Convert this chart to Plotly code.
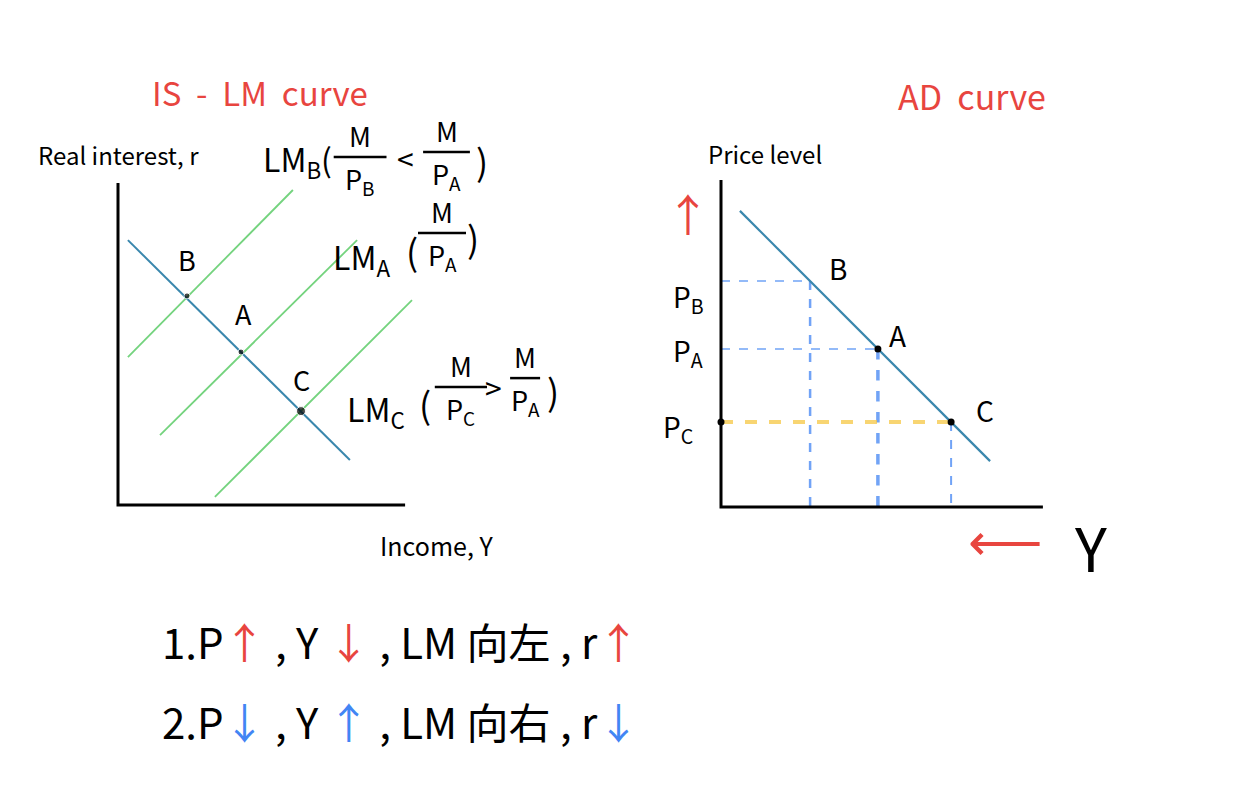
import plotly.graph_objects as go

# ---- IS-LM panel: income Y (x) vs real interest r (y) ----
is_income = [0.33, 7.73]
is_rate = [8.83, 1.5]
lm_labels = ["LM_B", "LM_A", "LM_C"]
lm_income = [[0.33, 5.83], [1.4, 7.97], [3.23, 9.8]]
lm_rate = [[4.93, 10.5], [2.33, 8.83], [0.27, 6.83]]
eq_labels = ["B", "A", "C"]
eq_income = [2.3, 4.1, 6.1]
eq_rate = [6.97, 5.1, 3.13]
islm_axis_len = [9.57, 10.73]  # income axis, interest axis

# ---- AD panel: output Y (x) vs price level P (y) ----
ad_output = [0.63, 8.97]
ad_price = [9.87, 1.53]
ad_labels = ["B", "A", "C"]
ad_pt_output = [2.97, 5.23, 7.67]
ad_pt_price = [7.53, 5.27, 2.83]
ad_axis_len = [10.73, 10.9]
price_ticks = ["P<sub>B</sub>", "P<sub>A</sub>", "P<sub>C</sub>"]

RED = "#e8453f"
BLUE = "#4285f4"
notes = [
    f"1.P<span style='color:{RED}'>↑</span> , Y <span style='color:{RED}'>↓</span> , LM 向左 , r<span style='color:{RED}'>↑</span>",
    f"2.P<span style='color:{BLUE}'>↓</span> , Y <span style='color:{BLUE}'>↑</span> , LM 向右 , r<span style='color:{BLUE}'>↓</span>",
]

FONT = "Noto Sans CJK SC, Noto Sans, sans-serif"
LINE_BLUE = "#3a87ad"
LM_GREEN = "#74d37e"

# page geometry (body margin of 8px in the browser)
OFF, FIG_W, FIG_H, UNIT = 8, 1218, 788, 30


def panel_axes(ox, oy, left, right, top, bottom):
    xd = [(left - OFF) / FIG_W, (right - OFF) / FIG_W]
    yd = [1 - (bottom - OFF) / FIG_H, 1 - (top - OFF) / FIG_H]
    xr = [(left - ox) / UNIT, (right - ox) / UNIT]
    yr = [(oy - bottom) / UNIT, (oy - top) / UNIT]
    common = dict(visible=False, showgrid=False, zeroline=False, fixedrange=True)
    return dict(domain=xd, range=xr, **common), dict(domain=yd, range=yr, **common)


fig = go.Figure()

# ---------------- IS-LM ----------------
fig.add_trace(go.Scatter(x=[0, 0, islm_axis_len[0]], y=[islm_axis_len[1], 0, 0], mode="lines",
                         line=dict(color="black", width=3), xaxis="x", yaxis="y"))
for i, name in enumerate(lm_labels):
    fig.add_trace(go.Scatter(x=lm_income[i], y=lm_rate[i], mode="lines", name=name,
                             line=dict(color=LM_GREEN, width=1.8), xaxis="x", yaxis="y"))
fig.add_trace(go.Scatter(x=is_income, y=is_rate, mode="lines", name="IS",
                         line=dict(color=LINE_BLUE, width=2), xaxis="x", yaxis="y"))
fig.add_trace(go.Scatter(x=eq_income, y=eq_rate, mode="markers",
                         marker=dict(color="black", size=[6, 6, 9]), xaxis="x", yaxis="y"))

# ---------------- AD ----------------
guide_styles = [
    (dict(color=BLUE, width=1.5, dash="dash"), dict(color=BLUE, width=2.5, dash="dash")),
    (dict(color=BLUE, width=1.5, dash="dash"), dict(color=BLUE, width=3.5, dash="dash")),
    (dict(color="#f6c744", width=4, dash="dash"), dict(color=BLUE, width=2, dash="dash")),
]
for i in range(3):
    h_style, v_style = guide_styles[i]
    fig.add_trace(go.Scatter(x=[0, ad_pt_output[i]], y=[ad_pt_price[i]] * 2, mode="lines",
                             line=h_style, opacity=0.75, xaxis="x2", yaxis="y2"))
    fig.add_trace(go.Scatter(x=[ad_pt_output[i]] * 2, y=[ad_pt_price[i], -0.15], mode="lines",
                             line=v_style, opacity=0.75, xaxis="x2", yaxis="y2"))
fig.add_trace(go.Scatter(x=[0, 0, ad_axis_len[0]], y=[ad_axis_len[1], 0, 0], mode="lines",
                         line=dict(color="black", width=3), xaxis="x2", yaxis="y2"))
fig.add_trace(go.Scatter(x=ad_output, y=ad_price, mode="lines", name="AD",
                         line=dict(color=LINE_BLUE, width=2.2), xaxis="x2", yaxis="y2"))
fig.add_trace(go.Scatter(x=ad_pt_output[1:] + [0], y=ad_pt_price[1:] + [ad_pt_price[2]], mode="markers",
                         marker=dict(color="black", size=7), xaxis="x2", yaxis="y2"))

xa, ya = panel_axes(118, 505, 20, 615, 50, 600)
xb, yb = panel_axes(721, 507, 630, 1220, 50, 600)
fig.update_layout(xaxis=xa, yaxis=ya, xaxis2=xb, yaxis2=yb)


def txt(x, y, text, ref, size=26, color="black", xanchor="center", yanchor="middle"):
    fig.add_annotation(x=x, y=y, text=text, xref=ref[0], yref=ref[1], showarrow=False,
                       xanchor=xanchor, yanchor=yanchor, font=dict(family=FONT, size=size, color=color))


def frac(x, y_line, half_w, den, ref, size=27):
    fig.add_shape(type="line", x0=x - half_w, x1=x + half_w, y0=y_line, y1=y_line,
                  xref=ref[0], yref=ref[1], line=dict(color="black", width=2.5))
    txt(x, y_line, "M", ref, size=size, yanchor="bottom")
    txt(x, y_line, f"P<sub>{den}</sub>", ref, size=size, yanchor="top")


L = ("x", "y")
R = ("x2", "y2")

# IS-LM labels
txt(4.73, 13.78, "IS  -  LM  curve", L, size=33, color=RED)
txt(0, 11.67, "Real interest, r", L, size=24)
txt(10.63, -1.33, "Income, Y", L, size=25)
for name, xu, yu in zip(eq_labels, [2.3, 4.17, 6.13], [8.17, 6.4, 4.17]):
    txt(xu, yu, name, L, size=27)

txt(7.2, 11.5, "LM<sub>B</sub>(", L, size=32, xanchor="right")
frac(8.07, 11.6, 0.88, "B", L)
txt(9.57, 11.57, "<", L, size=30)
frac(10.95, 11.77, 0.78, "A", L)
txt(12.13, 11.5, ")", L, size=36)

txt(9.13, 8.23, "LM<sub>A</sub>", L, size=32, xanchor="right")
txt(9.8, 8.5, "(", L, size=36)
frac(10.8, 9.07, 0.8, "A", L)
txt(11.83, 8.93, ")", L, size=36)

txt(9.63, 3.17, "LM<sub>C</sub>", L, size=32, xanchor="right")
txt(10.23, 3.4, "(", L, size=36)
frac(11.43, 3.93, 0.87, "C", L)
txt(12.5, 3.93, ">", L, size=30)
frac(13.57, 4.23, 0.5, "A", L)
txt(14.5, 3.83, ")", L, size=36)

# AD labels
txt(8.37, 13.72, "AD  curve", R, size=34, color=RED)
txt(1.47, 11.8, "Price level", R, size=24)
for name, xu, yu in zip(ad_labels, [3.9, 5.87, 8.8], [7.97, 5.73, 3.23]):
    txt(xu, yu, name, R, size=28)
for tick, yu, xu in zip(price_ticks, [6.97, 5.17, 2.63], [-1.1, -1.1, -1.43]):
    txt(xu, yu, tick, R, size=28)
txt(-1.1, 9.8, "↑", R, size=44, color=RED)
txt(9.47, -1.0, "⟵", R, size=52, color=RED)
txt(12.3, -1.27, "Y", R, size=60)

# notes under the charts
for k, (note, ypix) in enumerate(zip(notes, [640, 720])):
    fig.add_annotation(x=(160 - OFF) / FIG_W, y=1 - (ypix - OFF) / FIG_H, xref="paper", yref="paper",
                       text=note, showarrow=False, xanchor="left", yanchor="middle",
                       font=dict(family=FONT, size=42, color="black"))

fig.update_layout(width=FIG_W, height=FIG_H, margin=dict(l=0, r=0, t=0, b=0),
                  showlegend=False, plot_bgcolor="white", paper_bgcolor="white")
fig.write_html("out.html")
